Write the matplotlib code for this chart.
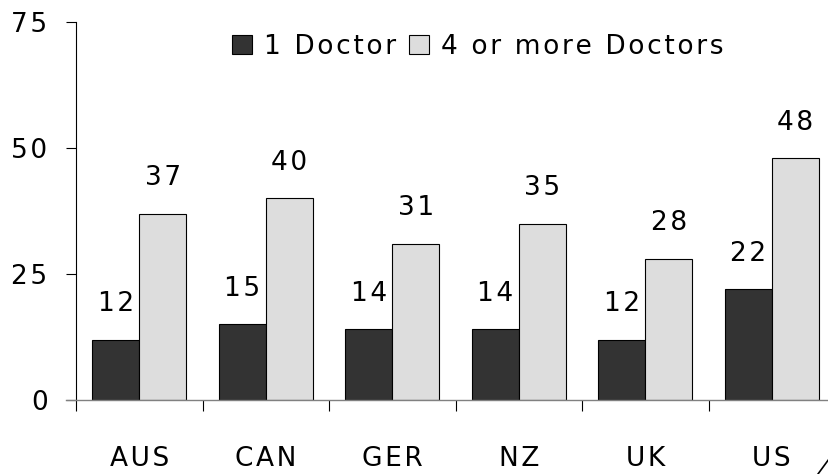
import matplotlib
matplotlib.use("Agg")
import matplotlib.pyplot as plt
import numpy as np
from matplotlib.patches import Rectangle
from matplotlib.lines import Line2D

categories = ["AUS", "CAN", "GER", "NZ", "UK", "US"]
one_doctor = [12, 15, 14, 14, 12, 22]
four_plus = [37, 40, 31, 35, 28, 48]
series_names = ["1 Doctor", "4 or more Doctors"]
yticks = [0, 25, 50, 75]

plt.rcParams['font.family'] = ['DejaVu Sans']
HS = "\u200a"


def spaced(s):
    return HS.join(s)


W, H = 829, 474
fig = plt.figure(figsize=(W / 100, H / 100), dpi=100)
ax = fig.add_axes([76 / W, (H - 400) / H, (835 - 76) / W, (400 - 22) / H])

x = np.arange(len(categories))
bw = 0.372
dark = "#333333"
light = "#dddddd"
b1 = ax.bar(x - bw / 2, one_doctor, bw, color=dark, edgecolor="black", linewidth=0.8)
b2 = ax.bar(x + bw / 2, four_plus, bw, color=light, edgecolor="black", linewidth=0.8)

fs = 19
for bars, vals in ((b1, one_doctor), (b2, four_plus)):
    for r, v in zip(bars, vals):
        ax.annotate(spaced(str(v)), (r.get_x() + r.get_width() / 2, v), xytext=(0, 20.5),
                    textcoords="offset points", ha="center", va="baseline", fontsize=fs)

ax.set_xlim(-0.5, len(categories) - 0.5)
ax.set_ylim(0, 75)
ax.set_yticks(yticks)
ax.set_yticklabels([spaced(str(t)) for t in yticks], fontsize=fs)
ax.tick_params(axis="y", length=7.5, width=0.8, pad=13, direction="out")

ax.set_xticks(x)
ax.set_xticklabels([spaced(c) for c in categories], fontsize=fs)
ax.tick_params(axis="x", which="major", length=0, pad=33)
ax.set_xticks(np.arange(len(categories)) - 0.5, minor=True)
ax.tick_params(axis="x", which="minor", length=8, width=0.8, direction="out")

for s in ("top", "right"):
    ax.spines[s].set_visible(False)
ax.spines["left"].set_linewidth(0.8)
ax.spines["bottom"].set_color("#808080")
ax.spines["bottom"].set_linewidth(1.0)
ax.spines["bottom"].set_bounds(-0.58, 5.6)

handles = [Rectangle((0, 0), 1, 1, facecolor=dark, edgecolor="black", linewidth=0.8),
           Rectangle((0, 0), 1, 1, facecolor=light, edgecolor="black", linewidth=0.8)]
leg = fig.legend(handles, [spaced(n) for n in series_names], loc="center",
                 bbox_to_anchor=(477.5 / W, 1 - 47 / H),
                 ncol=2, frameon=False, fontsize=fs, handlelength=0.75, handleheight=0.75,
                 handletextpad=0.45, columnspacing=0.5, borderpad=0)

fig.add_artist(Line2D([818 / W, 829 / W], [0 / H, 15 / H], color="black", linewidth=1.2))

fig.savefig("out.png", dpi=100)
